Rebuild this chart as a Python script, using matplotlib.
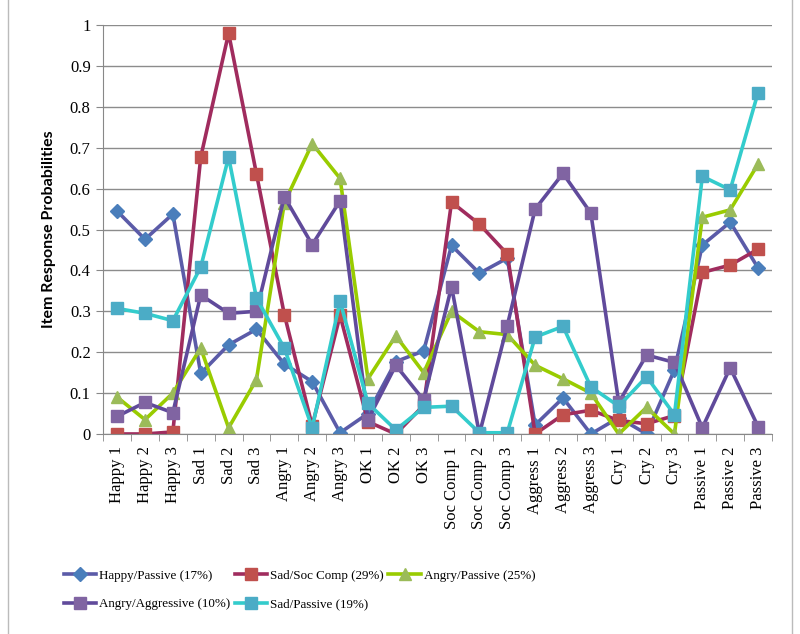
import numpy as np
import matplotlib
matplotlib.use("Agg")
from matplotlib import pyplot as plt
from matplotlib.lines import Line2D

categories = ["Happy 1", "Happy 2", "Happy 3", "Sad 1", "Sad 2", "Sad 3",
              "Angry 1", "Angry 2", "Angry 3", "OK 1", "OK 2", "OK 3",
              "Soc Comp 1", "Soc Comp 2", "Soc Comp 3",
              "Aggress 1", "Aggress 2", "Aggress 3",
              "Cry 1", "Cry 2", "Cry 3", "Passive 1", "Passive 2", "Passive 3"]

happy_passive = [0.545, 0.476, 0.538, 0.148, 0.218, 0.256, 0.171, 0.128, 0.003,
                 0.05, 0.177, 0.203, 0.461, 0.393, 0.43, 0.022, 0.088, 0.0,
                 0.04, 0.0, 0.157, 0.462, 0.518, 0.406]
sad_soccomp = [0.0, 0.0, 0.005, 0.677, 0.98, 0.636, 0.292, 0.02, 0.29,
               0.03, 0.0, 0.07, 0.567, 0.513, 0.44, 0.0, 0.047, 0.058,
               0.033, 0.025, 0.045, 0.395, 0.413, 0.452]
angry_passive = [0.09, 0.035, 0.1, 0.21, 0.015, 0.133, 0.565, 0.71, 0.625,
                 0.135, 0.24, 0.15, 0.30, 0.25, 0.243, 0.168, 0.135, 0.1,
                 0.0, 0.065, 0.0, 0.53, 0.548, 0.66]
angry_aggressive = [0.043, 0.077, 0.052, 0.34, 0.295, 0.3, 0.58, 0.463, 0.57,
                    0.035, 0.168, 0.083, 0.36, 0.0, 0.265, 0.55, 0.637, 0.54,
                    0.077, 0.193, 0.175, 0.015, 0.162, 0.018]
sad_passive = [0.307, 0.295, 0.277, 0.408, 0.677, 0.332, 0.21, 0.015, 0.325,
               0.075, 0.01, 0.065, 0.068, 0.003, 0.003, 0.237, 0.263, 0.115,
               0.068, 0.14, 0.047, 0.63, 0.597, 0.835]

series = [
    ("Happy/Passive (17%)", happy_passive, "#5B5BA8", "#4A7EBB", "D", 7),
    ("Sad/Soc Comp (29%)", sad_soccomp, "#A02C5E", "#C0504D", "s", 9),
    ("Angry/Passive (25%)", angry_passive, "#99CC00", "#9BBB59", "^", 9),
    ("Angry/Aggressive (10%)", angry_aggressive, "#604A9B", "#8064A2", "s", 9),
    ("Sad/Passive (19%)", sad_passive, "#33CCCC", "#4BACC6", "s", 9),
]

serif = "Liberation Serif"

fig = plt.figure(figsize=(8, 6.34), dpi=100)
ax = fig.add_axes([0.129, 0.3155, 0.836, 0.645])

x = np.arange(len(categories))
handles = []
for label, vals, lc, mc, mk, ms in series:
    h, = ax.plot(x, vals, color=lc, lw=2.6, marker=mk, markersize=ms,
                 markerfacecolor=mc, markeredgecolor=mc, label=label)
    handles.append(h)

ax.set_xlim(-0.5, len(categories) - 0.5)
ax.set_ylim(0, 1)
ax.set_yticks(np.arange(0, 1.01, 0.1))
ax.set_yticklabels(["0", "0.1", "0.2", "0.3", "0.4", "0.5", "0.6", "0.7",
                    "0.8", "0.9", "1"], fontfamily=serif, fontsize=12)
ax.set_xticks(x)
ax.set_xticklabels(categories, rotation=90, fontfamily=serif, fontsize=12)
ax.set_xticks(np.arange(-0.5, len(categories)), minor=True)
ax.tick_params(axis="x", which="major", length=0, pad=9)
ax.tick_params(axis="x", which="minor", length=5, color="#888888")
ax.tick_params(axis="y", length=5, color="#888888", pad=4)
ax.grid(axis="y", color="#8C8C8C", lw=1)
ax.set_axisbelow(True)
for side in ["top", "right"]:
    ax.spines[side].set_visible(False)
for side in ["left", "bottom"]:
    ax.spines[side].set_color("#888888")
ax.set_ylabel("Item Response Probabilities", fontfamily="Lato",
              fontweight="bold", fontsize=11.5, labelpad=10)

# legend filled column by column, so reorder to read row by row
order = [0, 3, 1, 4, 2]
fig.legend(handles=[handles[i] for i in order], ncol=3, loc="upper left",
           bbox_to_anchor=(0.073, 0.11), frameon=False,
           prop={"family": serif, "size": 9.4}, handlelength=2.5,
           handletextpad=0.2, columnspacing=0.35, labelspacing=1.25,
           borderaxespad=0)

fig.add_artist(Line2D([8 / 800, 8 / 800], [0, 1], color="#BBBBBB", lw=1))
fig.add_artist(Line2D([792 / 800, 792 / 800], [0, 1], color="#BBBBBB", lw=1))

fig.savefig("out.png", dpi=100)
